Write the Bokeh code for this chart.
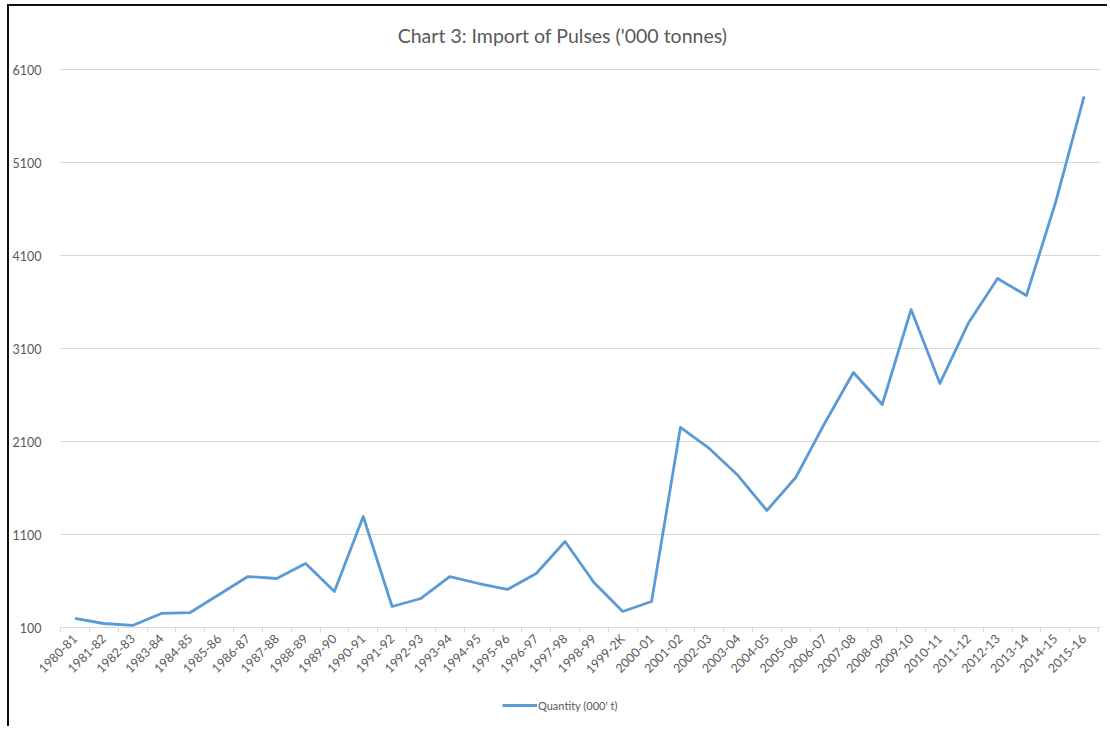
from bokeh.plotting import figure
from bokeh.models import FixedTicker, Legend, LegendItem, ColumnDataSource, Label, Range1d
from bokeh.embed import file_html
from bokeh.resources import INLINE
import math

years = ["1980-81", "1981-82", "1982-83", "1983-84", "1984-85", "1985-86", "1986-87",
         "1987-88", "1988-89", "1989-90", "1990-91", "1991-92", "1992-93", "1993-94",
         "1994-95", "1995-96", "1996-97", "1997-98", "1998-99", "1999-2K", "2000-01",
         "2001-02", "2002-03", "2003-04", "2004-05", "2005-06", "2006-07", "2007-08",
         "2008-09", "2009-10", "2010-11", "2011-12", "2012-13", "2013-14", "2014-15",
         "2015-16"]
quantity = [197, 143, 122, 251, 261, 455, 648, 627, 788, 487, 1294, 326, 412, 648,
            573, 509, 681, 1025, 584, 272, 380, 2251, 2025, 1734, 1358, 1713, 2294,
            2842, 2498, 3519, 2724, 3380, 3853, 3670, 4659, 5810]
y_ticks = [100, 1100, 2100, 3100, 4100, 5100, 6100]
title_text = "Chart 3: Import of Pulses ('000 tonnes)"
series_name = "Quantity (000' t)"

FONT = "Lato"
GRAY = "#595959"

# layout (pixels)
W, H = 1100, 722
LEFT_PAD, RIGHT_PAD = 51, 11      # canvas edge -> plot area
TOP_PAD, BOT_PAD = 63, 101
n = len(years)
x_per_px = n / (W - LEFT_PAD - RIGHT_PAD)
span = y_ticks[-1] - y_ticks[0]
y_per_px = span / (H - TOP_PAD - BOT_PAD)

positions = [i + 0.5 for i in range(n)]
src = ColumnDataSource(dict(x=positions, y=quantity, year=years))

p = figure(width=W, height=H, output_backend="svg", toolbar_location=None,
           x_range=Range1d(0 - LEFT_PAD * x_per_px, n + RIGHT_PAD * x_per_px),
           y_range=Range1d(y_ticks[0] - BOT_PAD * y_per_px, y_ticks[-1] + TOP_PAD * y_per_px),
           min_border_left=0, min_border_right=0, min_border_top=0, min_border_bottom=0)
p.styles = {"margin-left": "7px", "margin-top": "4px",
            "border-left": "2px solid #111", "border-top": "2px solid #111"}
p.outline_line_color = None
p.background_fill_color = "white"
p.border_fill_color = "white"

# x axis drawn at the bottom gridline: labels at centers, tick marks at boundaries
p.xaxis.fixed_location = y_ticks[0]
p.xaxis.bounds = (0, n)
p.xaxis.ticker = FixedTicker(ticks=positions, minor_ticks=list(range(n + 1)))
p.xaxis.major_label_overrides = {pos: lab for pos, lab in zip(positions, years)}
p.xaxis.major_tick_in = 0
p.xaxis.major_tick_out = 0
p.xaxis.minor_tick_in = 0
p.xaxis.minor_tick_out = 5
p.xaxis.minor_tick_line_color = "#d9d9d9"
p.xaxis.axis_line_color = "#d9d9d9"
p.xaxis.major_label_orientation = math.pi / 4
p.xaxis.major_label_text_font = FONT
p.xaxis.major_label_text_font_size = "12.5px"
p.xaxis.major_label_text_color = GRAY
p.xaxis.major_label_standoff = 4
p.xgrid.grid_line_color = None

p.yaxis.fixed_location = 0
p.yaxis.ticker = FixedTicker(ticks=y_ticks)
p.yaxis.axis_line_color = None
p.yaxis.major_tick_line_color = None
p.yaxis.minor_tick_line_color = None
p.yaxis.major_label_text_font = FONT
p.yaxis.major_label_text_font_size = "12.5px"
p.yaxis.major_label_text_color = GRAY
p.yaxis.major_label_standoff = 13
p.ygrid.grid_line_color = "#d9d9d9"
p.ygrid.grid_line_width = 1
p.ygrid.cross_bounds = (0, n + 2 * x_per_px)

r = p.line("x", "y", source=src, line_color="#5b9bd5", line_width=2.8, line_join="round")

title = Label(x=553, y=H - 29, x_units="screen", y_units="screen", text=title_text,
              text_align="center", text_baseline="middle", text_font=FONT,
              text_font_size="19.5px", text_color=GRAY)
p.add_layout(title)

legend = Legend(items=[LegendItem(label=series_name, renderers=[r])],
                location=(493, 16), orientation="horizontal",
                glyph_width=35, glyph_height=14, label_height=14, label_standoff=1,
                padding=0, margin=0, border_line_color=None, background_fill_alpha=0,
                label_text_font=FONT, label_text_font_size="11px", label_text_color=GRAY)
p.add_layout(legend)

open("out.html", "w").write(file_html(p, INLINE))
